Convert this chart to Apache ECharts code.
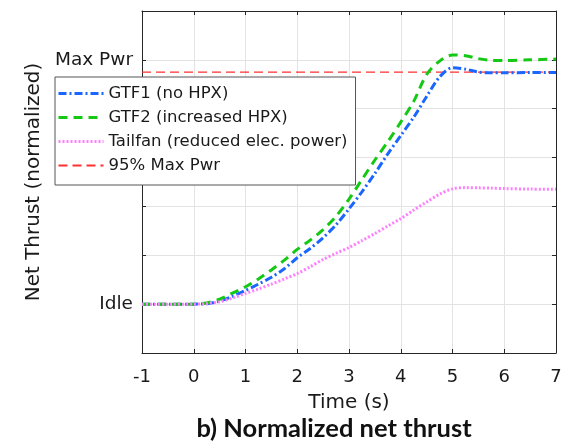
<!DOCTYPE html>
<html>
<head>
<meta charset="utf-8">
<script src="https://cdn.jsdelivr.net/npm/echarts@6/dist/echarts.min.js"></script>
<style>html,body{margin:0;padding:0;background:#fff;}#c{width:569px;height:443px;}</style>
</head>
<body>
<div id="c"></div>
<script>
// ---- data ----
var timeS = [-1, -0.5, 0, 0.25, 0.5, 0.75, 1, 1.25, 1.5, 1.75, 2, 2.25, 2.5, 2.75, 3, 3.25, 3.5, 3.75, 4, 4.25, 4.5, 4.75, 5, 5.25, 5.5, 5.75, 6, 6.5, 7];
var gtf1 = [0, 0, 0, 0.002, 0.012, 0.032, 0.056, 0.082, 0.11, 0.145, 0.19, 0.228, 0.272, 0.325, 0.39, 0.46, 0.535, 0.615, 0.69, 0.765, 0.85, 0.93, 0.968, 0.962, 0.95, 0.947, 0.947, 0.948, 0.948];
var gtf2 = [0, 0, 0, 0.005, 0.02, 0.045, 0.071, 0.103, 0.14, 0.18, 0.224, 0.262, 0.305, 0.36, 0.43, 0.51, 0.59, 0.665, 0.745, 0.83, 0.94, 0.995, 1.02, 1.017, 1.005, 0.998, 0.997, 1.0, 1.003];
var tailfan = [0, 0, 0, 0.002, 0.01, 0.025, 0.044, 0.062, 0.082, 0.103, 0.125, 0.153, 0.183, 0.208, 0.232, 0.26, 0.289, 0.32, 0.35, 0.385, 0.418, 0.45, 0.472, 0.477, 0.476, 0.475, 0.473, 0.471, 0.47];
var maxPwr95X = [-1, 7];
var maxPwr95Y = [0.95, 0.95];
var seriesNames = ['GTF1 (no HPX)', 'GTF2 (increased HPX)', 'Tailfan (reduced elec. power)', '95% Max Pwr'];
var yTickLabels = {0: 'Idle', 1: 'Max Pwr'};

function pairs(xs, ys) { return xs.map(function (x, i) { return [x, ys[i]]; }); }

var font = 'DejaVu Sans, sans-serif';
var axisColor = '#262626';
var txt = '#1a1a1a';
var chart = echarts.init(document.getElementById('c'), null, {renderer: 'canvas'});

function frameAxis(pos, isX) {
  var a = {
    type: 'value', position: pos,
    axisLine: {show: true, onZero: false, lineStyle: {color: axisColor, width: 1}},
    axisTick: {show: true, inside: true, length: 4, lineStyle: {color: axisColor}},
    axisLabel: {show: false}, splitLine: {show: false}
  };
  if (isX) { a.min = -1; a.max = 7; a.interval = 1; } else { a.min = -0.2; a.max = 1.2; a.interval = 0.2; }
  return a;
}

var lineStyles = [
  {color: '#1a66ff', width: 3, type: [8, 3, 2, 3]},
  {color: '#14c814', width: 3, type: [9, 6]},
  {color: '#ff80ff', width: 3, type: [2, 2]},
  {color: '#ff3030', width: 1.2, type: [9, 5]}
];
var legendLineStyles = [
  {color: '#1a66ff', width: 3, type: [8, 3, 2, 3]},
  {color: '#14c814', width: 3, type: [9, 6]},
  {color: '#ff80ff', width: 3, type: [2, 2]},
  {color: '#ff3030', width: 2, type: [9, 5]}
];

chart.setOption({
  animation: false,
  backgroundColor: '#fff',
  grid: {left: 142, right: 13, top: 11, bottom: 90, containLabel: false},
  xAxis: [{
    type: 'value', min: -1, max: 7, interval: 1, position: 'bottom',
    axisLine: {show: true, onZero: false, lineStyle: {color: axisColor, width: 1}},
    axisTick: {show: true, inside: true, length: 4, lineStyle: {color: axisColor}},
    axisLabel: {color: txt, fontFamily: font, fontSize: 18, margin: 15},
    splitLine: {show: true, lineStyle: {color: '#e3e3e3', width: 1}},
    name: 'Time (s)', nameLocation: 'middle', nameGap: 40,
    nameTextStyle: {color: txt, fontFamily: font, fontSize: 20}
  }, frameAxis('top', true)],
  yAxis: [{
    type: 'value', min: -0.2, max: 1.2, interval: 0.2, position: 'left',
    axisLine: {show: true, onZero: false, lineStyle: {color: axisColor, width: 1}},
    axisTick: {show: true, inside: true, length: 4, lineStyle: {color: axisColor}},
    axisLabel: {color: txt, fontFamily: font, fontSize: 18.5, margin: 9,
      formatter: function (v) { var k = Math.round(v * 10) / 10; return yTickLabels[k] !== undefined ? yTickLabels[k] : ''; }},
    splitLine: {show: true, lineStyle: {color: '#e3e3e3', width: 1}},
    name: 'Net Thrust (normalized)', nameLocation: 'middle', nameGap: 97,
    nameTextStyle: {color: txt, fontFamily: font, fontSize: 20}
  }, frameAxis('right', false)],
  legend: {
    show: true, orient: 'vertical', left: 55, top: 77,
    backgroundColor: '#fff', borderColor: '#555', borderWidth: 1,
    padding: [8, 8, 11, 2], itemGap: 7, itemWidth: 45, itemHeight: 14,
    itemStyle: {opacity: 0},
    textStyle: {color: txt, fontFamily: font, fontSize: 16.5, lineHeight: 16},
    data: seriesNames.map(function (n, i) { return {name: n, lineStyle: legendLineStyles[i]}; })
  },
  title: {
    text: 'b) Normalized net thrust', left: 329, top: 411, textAlign: 'center',
    textStyle: {color: '#111', fontFamily: 'Lato, Open Sans, sans-serif', fontWeight: 'bold', fontSize: 25.5}
  },
  series: seriesNames.map(function (n, i) {
    var d = [pairs(timeS, gtf1), pairs(timeS, gtf2), pairs(timeS, tailfan), pairs(maxPwr95X, maxPwr95Y)][i];
    return {
      name: n, type: 'line', data: d, smooth: i < 3 ? 0.3 : false,
      showSymbol: false, symbol: 'none', z: i < 3 ? 3 : 2,
      lineStyle: lineStyles[i], itemStyle: {color: lineStyles[i].color}
    };
  })
});
</script>
</body>
</html>
